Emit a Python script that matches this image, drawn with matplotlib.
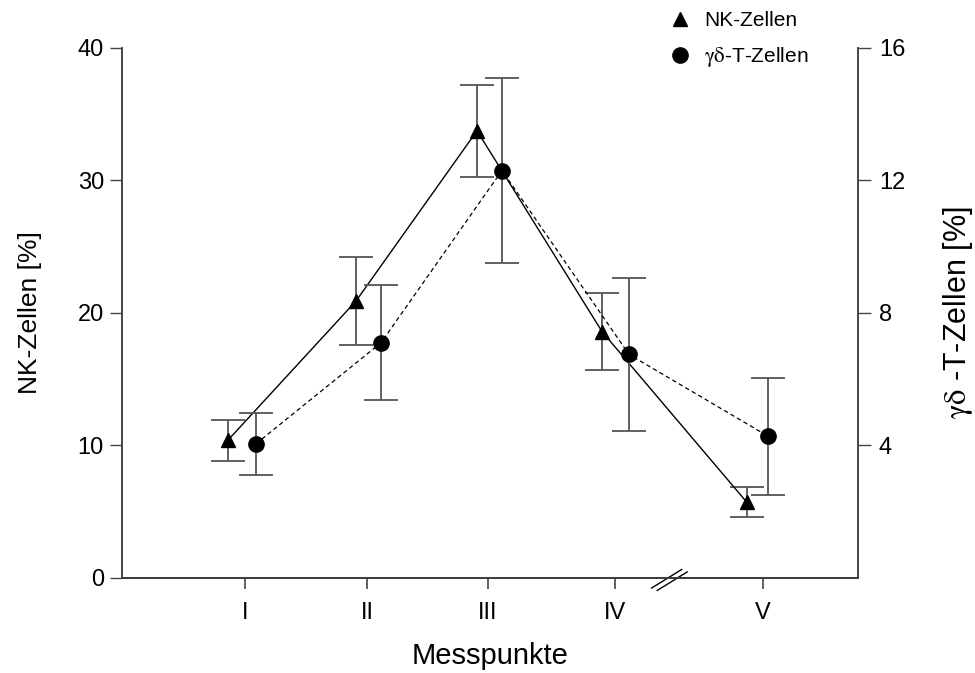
import matplotlib
matplotlib.use("Agg")
import matplotlib.pyplot as plt
from matplotlib.lines import Line2D

plt.rcParams['font.family'] = ['Liberation Sans', 'DejaVu Sans']
plt.rcParams['mathtext.fontset'] = 'stix'

# Data
categories = ['I', 'II', 'III', 'IV', 'V']
tick_pos = [123, 245, 366, 493, 641]          # x positions of Messpunkte (axis has a break before V)
nk_x = [106, 234, 355, 480, 625]
gd_x = [134, 259, 380, 507, 646]
nk_vals = [10.4, 20.9, 33.75, 18.6, 5.7]       # NK-Zellen [%] (left axis)
nk_err = [1.55, 3.3, 3.45, 2.9, 1.13]
gd_vals = [4.05, 7.1, 12.3, 6.75, 4.28]        # γδ-T-Zellen [%] (right axis)
gd_err = [0.93, 1.74, 2.78, 2.3, 1.77]

fig = plt.figure(figsize=(9.75, 6.73), dpi=100)
ax = fig.add_axes([0.1251, 0.1412, 0.7549, 0.7875])
ax2 = ax.twinx()

spine_col = '#444444'
err_col = '#555555'

# NK series
ax.errorbar(nk_x, nk_vals, yerr=nk_err, fmt='none', ecolor=err_col, elinewidth=1.3,
            capsize=12, capthick=1.3, zorder=2)
ax.plot(nk_x, nk_vals, color='black', lw=1.0, zorder=3)
ax.plot(nk_x, nk_vals, ls='none', marker='^', ms=10, color='black', zorder=4)

# γδ series
ax2.errorbar(gd_x, gd_vals, yerr=gd_err, fmt='none', ecolor=err_col, elinewidth=1.3,
             capsize=12, capthick=1.3, zorder=2)
ax2.plot(gd_x, gd_vals, color='black', lw=0.9, ls=(0, (3.5, 2.5)), zorder=3)
ax2.plot(gd_x, gd_vals, ls='none', marker='o', ms=11, color='black', zorder=4)

ax.set_xlim(0, 736)
ax.set_ylim(0, 40)
ax2.set_ylim(0, 16)
ax.set_xticks(tick_pos)
ax.set_xticklabels(categories, fontsize=17)
ax.set_yticks([0, 10, 20, 30, 40])
ax.set_yticklabels(['0', '10', '20', '30', '40'], fontsize=17)
ax2.set_yticks([4, 8, 12, 16])
ax2.set_yticklabels(['4', '8', '12', '16'], fontsize=17)

for a in (ax, ax2):
    a.spines['top'].set_visible(False)
    for s in a.spines.values():
        s.set_color(spine_col)
        s.set_linewidth(1.2)
ax.spines['bottom'].set_color('black')
ax.tick_params(axis='x', direction='out', length=8, width=1.2, color=spine_col, pad=9)
ax.tick_params(axis='y', direction='out', length=9, width=1.0, color=spine_col, pad=4)
ax2.tick_params(axis='y', direction='out', length=9, width=1.0, color=spine_col, pad=6)

ax.set_xlabel('Messpunkte', fontsize=21, labelpad=13)
ax.set_ylabel('NK-Zellen [%]', fontsize=19, labelpad=26)
ax2.set_ylabel(r'$\mathrm{\gamma\delta}$ -T-Zellen [%]', fontsize=22, labelpad=26)

# axis break marks between IV and V
for dx in (0.0, 0.0076):
    ax.plot([0.7196 + dx, 0.7604 + dx], [-0.019 - dx * 0.6, 0.016 - dx * 0.6],
            transform=ax.transAxes, color='black', lw=1.0, clip_on=False, zorder=5)

handles = [Line2D([], [], ls='none', marker='^', ms=10, color='black'),
           Line2D([], [], ls='none', marker='o', ms=11, color='black')]
labels = ['NK-Zellen', r'$\mathrm{\gamma\delta}$-T-Zellen']
fig.legend(handles, labels, loc='upper left', bbox_to_anchor=(0.668, 1.011),
           frameon=False, fontsize=15, handlelength=1.0, handletextpad=0.65,
           labelspacing=0.7)

fig.savefig('out.png', dpi=100)
